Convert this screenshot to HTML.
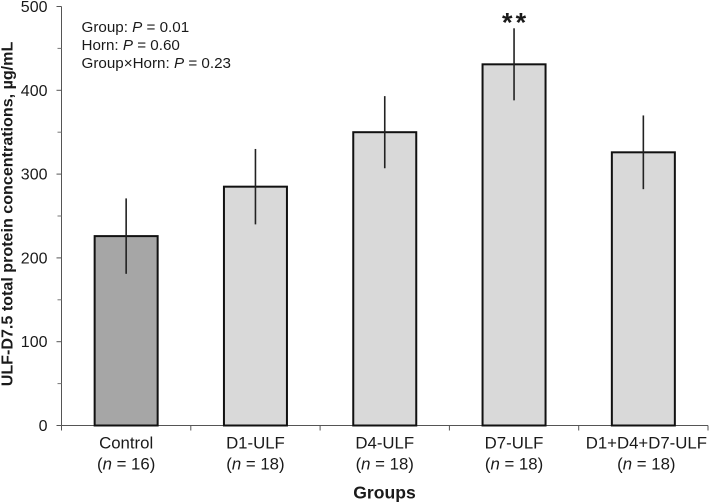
<!DOCTYPE html>
<html>
<head>
<meta charset="utf-8">
<style>
html,body{margin:0;padding:0;background:#fff;width:709px;height:503px;overflow:hidden}
svg{display:block}
text{font-family:"Liberation Sans",Arial,sans-serif;fill:#1a1a1a}
</style>
</head>
<body>
<svg id="chart" width="709" height="503" viewBox="0 0 709 503" xmlns="http://www.w3.org/2000/svg"></svg>
<script>
const categories = ["Control", "D1-ULF", "D4-ULF", "D7-ULF", "D1+D4+D7-ULF"];
const sampleSizes = [16, 18, 18, 18, 18];
const means = [226, 285, 350, 431, 326];
const errorLow = [181, 240, 307, 388, 282];
const errorHigh = [271, 330, 393, 474, 370];
const barFills = ["#a6a6a6", "#d9d9d9", "#d9d9d9", "#d9d9d9", "#d9d9d9"];
const significance = ["", "", "", "**", ""];
const yTicks = [0, 100, 200, 300, 400, 500];
const yMinorTicks = [50, 150, 250, 350, 450];
const statLines = [["Group: ", "0.01"], ["Horn: ", "0.60"], ["Group×Horn: ", "0.23"]];

const NS = "http://www.w3.org/2000/svg";
const svg = document.getElementById("chart");
const plotLeft = 61.5, plotRight = 708, plotBottom = 425.5, plotTop = 6.5;
const yMax = 500;
const barWidth = 63;
function yScale(v) { return plotBottom - (v / yMax) * (plotBottom - plotTop); }
function bandEdge(i) { return plotLeft + i * (plotRight - plotLeft) / categories.length; }
function xCenter(i) { return bandEdge(i + 0.5); }
function labelCenter(i) { return i === categories.length - 1 ? xCenter(i) + 3 : xCenter(i); }
function add(tag, attrs, parent) {
  const el = document.createElementNS(NS, tag);
  for (const k in attrs) el.setAttribute(k, attrs[k]);
  (parent || svg).appendChild(el);
  return el;
}
function italicValue(parent, before, italic, after, x, y, size, anchor) {
  const t = add("text", { x: x, y: y, "font-size": size, "text-anchor": anchor }, parent);
  const a = add("tspan", {}, t); a.textContent = before;
  const b = add("tspan", { "font-style": "italic" }, t); b.textContent = italic;
  const c = add("tspan", {}, t); c.textContent = after;
  return t;
}

const yAxis = add("line", { x1: plotLeft, x2: plotLeft, y1: plotTop, y2: plotBottom, stroke: "#555", "stroke-width": 1 });


const xAxis = add("line", { x1: plotLeft, x2: plotRight, y1: plotBottom, y2: plotBottom, stroke: "#555", "stroke-width": 1 });



categories.forEach((name, i) => {
  const cx = xCenter(i);
  const bar = add("rect", { x: cx - barWidth / 2, y: yScale(means[i]), width: barWidth, height: yScale(0) - yScale(means[i]), fill: barFills[i], stroke: "#111", "stroke-width": 2 });
  
  
});

yTicks.forEach(v => {
  const y = yScale(v);
  const tick = add("line", { x1: plotLeft - 5, x2: plotLeft, y1: y, y2: y, stroke: "#555", "stroke-width": 1 });
  
  
  const label = add("text", { x: 47.5, y: y + 5.5, "font-size": 16, "text-anchor": "end" });
  label.textContent = v;
  
  
});
yMinorTicks.forEach(v => {
  const y = yScale(v);
  const tick = add("line", { x1: plotLeft - 4, x2: plotLeft, y1: y, y2: y, stroke: "#777", "stroke-width": 1 });
  
  
});
for (let i = 0; i <= categories.length; i++) {
  const x = bandEdge(i);
  const tick = add("line", { x1: x, x2: x, y1: plotBottom, y2: plotBottom + 5, stroke: "#555", "stroke-width": 1 });
  
  
}

categories.forEach((name, i) => {
  const cx = xCenter(i);
  const err = add("line", { x1: cx, x2: cx, y1: yScale(errorHigh[i]), y2: yScale(errorLow[i]), stroke: "#222", "stroke-width": 1.6 });
  
  
  const label = add("text", { x: labelCenter(i), y: 448.5, "font-size": 16.8, "text-anchor": "middle" });
  label.textContent = name;
  
  
  const n = italicValue(svg, "(", "n", " = " + sampleSizes[i] + ")", labelCenter(i), 469.5, 16.8, "middle");
  
  
  if (significance[i]) {
    const s = add("text", { x: cx + 1.6, y: yScale(errorHigh[i]) + 3, "font-size": 27, "font-weight": "bold", "text-anchor": "middle", "letter-spacing": "3.2" });
    s.textContent = significance[i];
    
    
  }
});

statLines.forEach((line, i) => {
  const t = italicValue(svg, line[0], "P", " = " + line[1], 81.5, 32 + i * 18, 15.2, "start");
  
  
});

const xTitle = add("text", { x: 384.5, y: 498.5, "font-size": 17.6, "font-weight": "bold", "text-anchor": "middle" });
xTitle.textContent = "Groups";


const yTitle = add("text", { transform: "translate(12.5,214) rotate(-90)", "font-size": 16.1, "font-weight": "bold", "text-anchor": "middle" });
yTitle.textContent = "ULF-D7.5 total protein concentrations, µg/mL";


</script>
</body>
</html>
